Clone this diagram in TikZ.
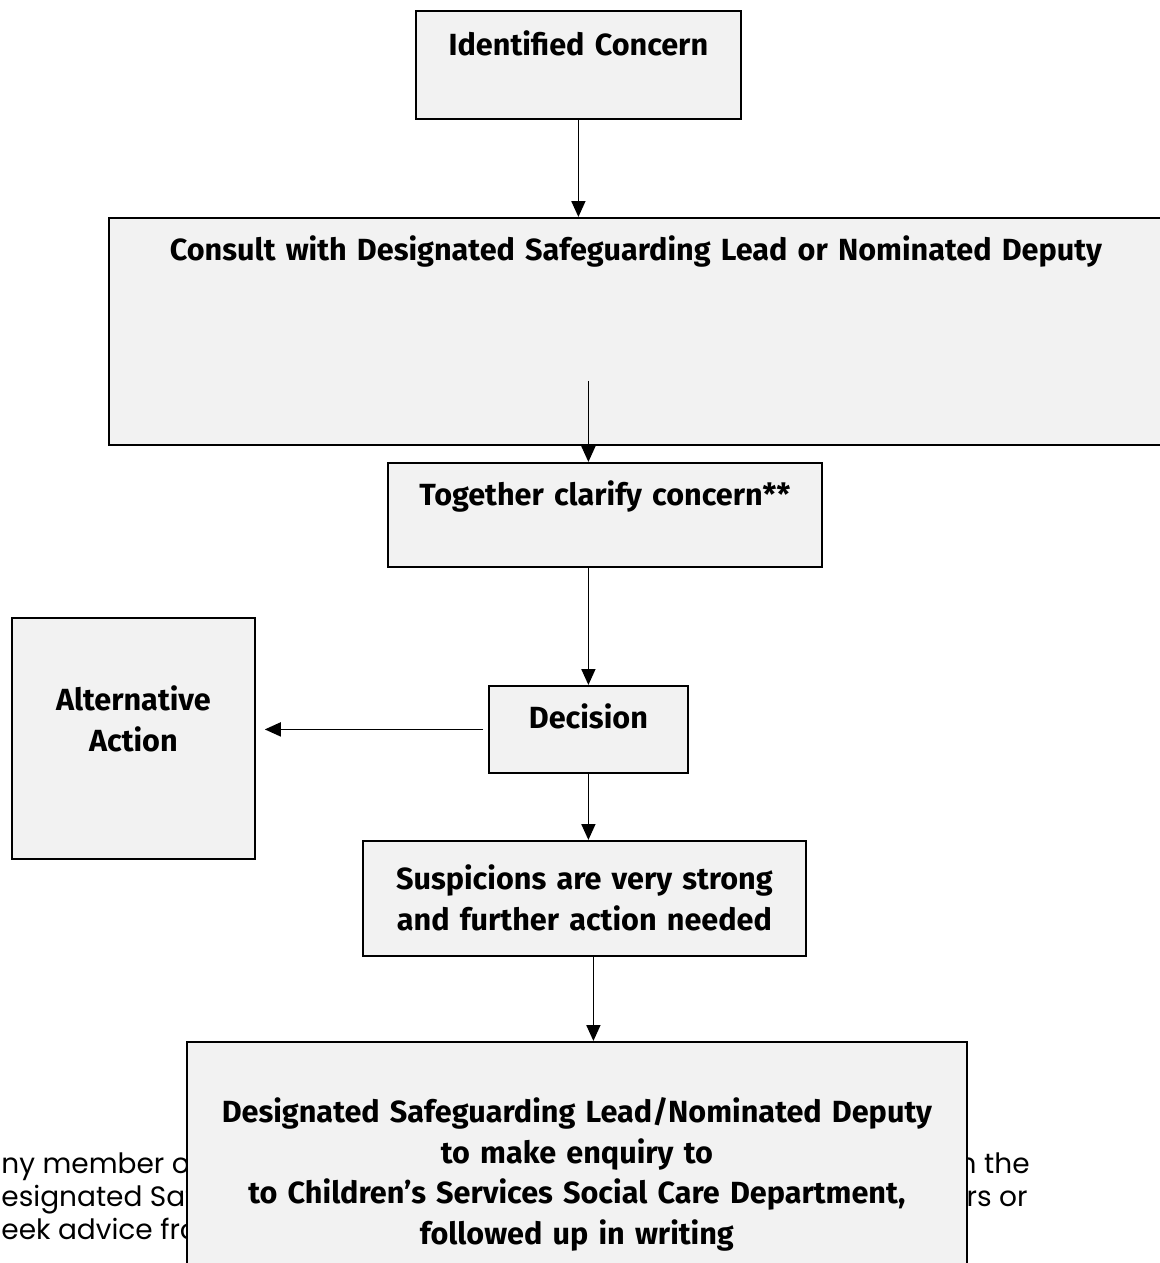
\documentclass[tikz,border=0pt]{standalone}
\usepackage{fontspec}
\setmainfont{Fira Sans}
\newfontfamily\notefont{Poppins}
\usetikzlibrary{arrows.meta}

\begin{document}
\begin{tikzpicture}[x=0.5pt,y=-0.5pt,%
    stage/.style={draw,line width=0.9pt,fill=gray!10,align=center,inner sep=0pt,anchor=north west,font=\fontsize{15.3}{20.25}\selectfont\bfseries},
    flow/.style={-{Triangle[width=7pt,length=8pt]},line width=0.85pt},
    note/.style={font=\fontsize{14}{17}\selectfont\notefont,inner sep=0pt}]

  \useasboundingbox (0,0) rectangle (1160,1263);
  \clip (0,0) rectangle (1160,1263);

  % page text that runs behind the last box
  \node[note,anchor=base west] (note-a) at (1,1173) {ny member o};
  \node[note,anchor=base west] (note-b) at (1,1206) {esignated Saf};
  \node[note,anchor=base west] (note-c) at (1,1239) {eek advice fro};
  \node[note,anchor=base east] (note-d) at (1030,1173) {n the};
  \node[note,anchor=base east] (note-e) at (1028,1206) {rs or};

  \node[stage,text width=162.5pt,text height=22.5pt,text depth=31.5pt] (concern) at (415,10) {Identified Concern};
  \node[stage,text width=527pt,text height=21.5pt,text depth=92pt] (consult) at (108,217) {Consult with Designated Safeguarding Lead or Nominated Deputy};
  \node[stage,text width=217pt,text height=21.5pt,text depth=30.5pt] (clarify) at (387,462) {Together clarify concern**};
  \node[stage,text width=99.5pt,text height=21.5pt,text depth=22pt] (decision) at (488,685) {Decision};
  \node[stage,text width=121.5pt,text height=46.5pt,text depth=74pt] (alternative) at (11,617) {Alternative\\Action};
  \node[stage,text width=221.5pt,text height=24.5pt,text depth=33pt] (suspicion) at (362,840) {Suspicions are very strong\\and further action needed};
  \node[stage,text width=390pt,text height=40.5pt,text depth=76.5pt] (referral) at (186,1041) {Designated Safeguarding Lead/Nominated Deputy\\to make enquiry to\\to Children’s Services Social Care Department,\\followed up in writing};

  \draw[flow] (concern.south) -- (concern.south |- consult.north);
  \draw[flow] ([yshift=32.5pt]decision.north |- consult.south) -- (decision.north |- clarify.north);
  \draw[flow] (clarify.south -| decision.north) -- (decision.north);
  \draw[flow] ([xshift=-2.5pt]decision.west) -- ([xshift=4.5pt]decision.west -| alternative.east);
  \draw[flow] (decision.south) -- (decision.south |- suspicion.north);
  \draw[flow] ([xshift=4.5pt]suspicion.south) -- ([xshift=4.5pt]suspicion.south |- referral.north);

\end{tikzpicture}
\end{document}
